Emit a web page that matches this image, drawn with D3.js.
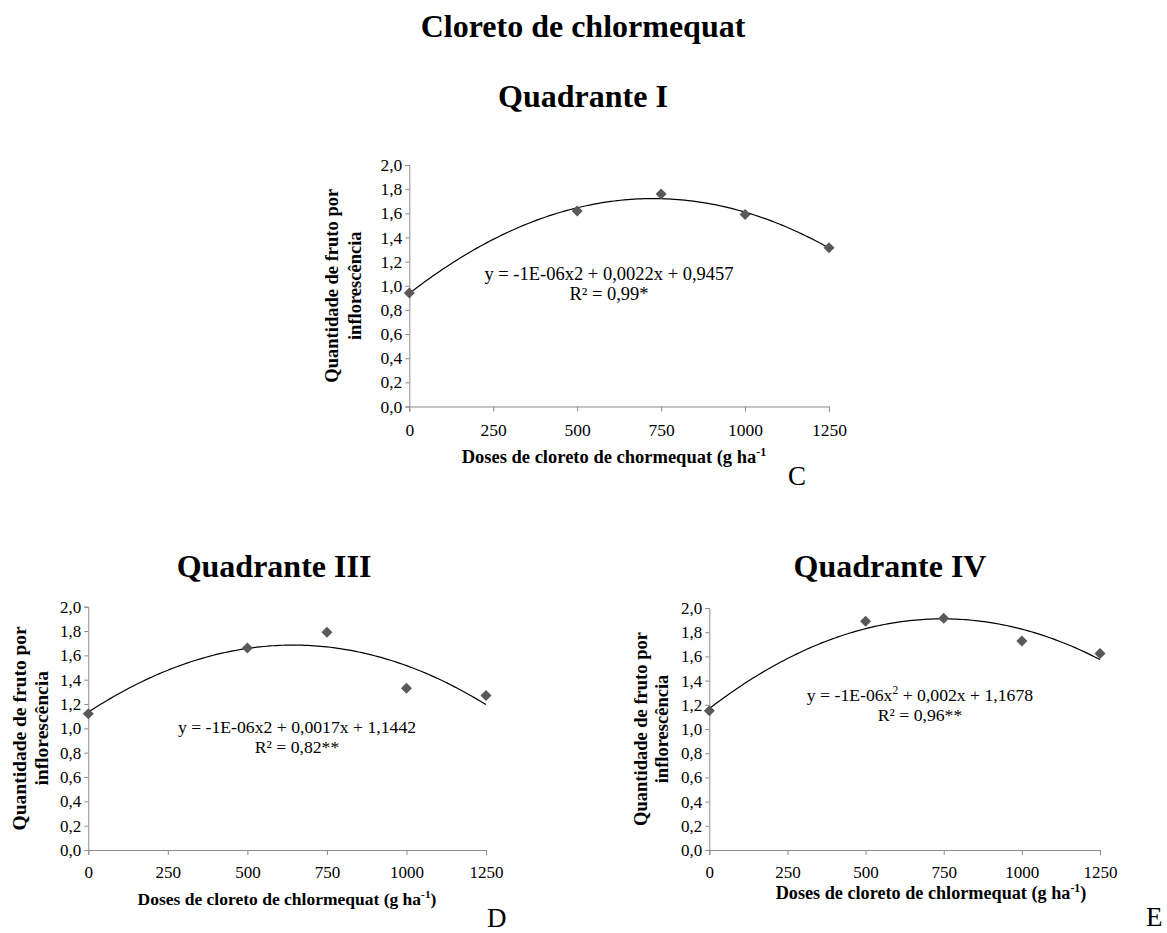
<!DOCTYPE html>
<html>
<head>
<meta charset="utf-8">
<script src="https://cdn.jsdelivr.net/npm/d3@7"></script>
<style>
  body { margin: 0; background: #fff; }
  svg { display: block; font-family: "Liberation Serif", "Times New Roman", serif; }
  svg text { font-family: "Liberation Serif", "Times New Roman", serif; }
</style>
</head>
<body>
<svg id="chart" width="1167" height="933"></svg>
<script>
// doses of chlormequat (g/ha) and fruit count per inflorescence
const doses = [0, 500, 750, 1000, 1250];
const quadI = [0.94, 1.62, 1.76, 1.59, 1.315];
const quadIII = [1.12, 1.66, 1.79, 1.33, 1.27];
const quadIV = [1.15, 1.89, 1.915, 1.727, 1.625];

const xTicks = [0, 250, 500, 750, 1000, 1250];
const yTicks = [0, 0.2, 0.4, 0.6, 0.8, 1.0, 1.2, 1.4, 1.6, 1.8, 2.0];

const mainTitle = "Cloreto de chlormequat";
const panelTitles = ["Quadrante I", "Quadrante III", "Quadrante IV"];
const panelLetters = ["C", "D", "E"];
const yTitle = ["Quantidade de fruto por", "inflorescência"];

// least squares fit y = a x^2 + b x + c
function quadFit(xs, ys) {
  let s = [0, 0, 0, 0, 0], t = [0, 0, 0];
  xs.forEach((x, i) => {
    for (let k = 0; k <= 4; k++) s[k] += Math.pow(x, k);
    for (let k = 0; k <= 2; k++) t[k] += Math.pow(x, k) * ys[i];
  });
  const M = [[s[4], s[3], s[2]], [s[3], s[2], s[1]], [s[2], s[1], s[0]]];
  const det = m => m[0][0] * (m[1][1] * m[2][2] - m[1][2] * m[2][1])
                 - m[0][1] * (m[1][0] * m[2][2] - m[1][2] * m[2][0])
                 + m[0][2] * (m[1][0] * m[2][1] - m[1][1] * m[2][0]);
  const rhs = [t[2], t[1], t[0]];
  const D = det(M);
  const sol = [0, 1, 2].map(j => {
    const m = M.map((row, i) => row.map((v, k) => k === j ? rhs[i] : v));
    return det(m) / D;
  });
  return x => sol[0] * x * x + sol[1] * x + sol[2];
}

const svg = d3.select("#chart");
const fmt = v => d3.format(".1f")(v).replace(".", ",");

svg.append("text")
  .attr("x", 583).attr("y", 37)
  .attr("text-anchor", "middle")
  .attr("font-weight", "bold")
  .attr("font-size", 32)
  .text(mainTitle);

const panels = [
  { vals: quadI, x0: 409.3, x1: 829, y0: 406.5, y1: 165,
    title: panelTitles[0], tx: 583, ty: 107,
    letter: panelLetters[0], lx: 788, ly: 485,
    eq: "y = -1E-06x2 + 0,0022x + 0,9457", r2: "R² = 0,99*", ex: 609, ey: 280, eqSize: 18.5,
    tickSize: 17.5, tickPad: 12, ytOff: 76, ytSize: 18.5, ytGap: 23,
    xlab: ["Doses de cloreto de chormequat (g ha", "-1", ""], xly: 463, xlx: 614, xlSize: 18.5 },
  { vals: quadIII, x0: 88.3, x1: 486, y0: 850, y1: 606.7,
    title: panelTitles[1], tx: 274, ty: 577,
    letter: panelLetters[1], lx: 487, ly: 927,
    eq: "y = -1E-06x2 + 0,0017x + 1,1442", r2: "R² = 0,82**", ex: 297, ey: 733, eqSize: 17.7,
    tickSize: 17, tickPad: 11, ytOff: 67.5, ytSize: 19.5, ytGap: 22.5,
    xlab: ["Doses de cloreto de chlormequat (g ha", "-1", ")"], xly: 905, xlx: 287, xlSize: 17.5 },
  { vals: quadIV, x0: 709.3, x1: 1100, y0: 850, y1: 608,
    title: panelTitles[2], tx: 890, ty: 577,
    letter: panelLetters[2], lx: 1146, ly: 926,
    eq: null, r2: "R² = 0,96**", ex: 920, ey: 701, eqSize: 17.7,
    tickSize: 17, tickPad: 11, ytOff: 67.3, ytSize: 18.5, ytGap: 21,
    xlab: ["Doses de cloreto de chlormequat (g ha", "-1", ")"], xly: 899, xlx: 931, xlSize: 18.2 }
];

panels.forEach(p => {
  const x = d3.scaleLinear().domain([0, 1250]).range([p.x0, p.x1]);
  const y = d3.scaleLinear().domain([0, 2]).range([p.y0, p.y1]);
  const g = svg.append("g");

  g.append("text")
    .attr("x", p.tx).attr("y", p.ty)
    .attr("text-anchor", "middle")
    .attr("font-weight", "bold")
    .attr("font-size", 32)
    .text(p.title);

  const yAxis = g.append("g")
    .attr("transform", `translate(${p.x0},0)`)
    .call(d3.axisLeft(y).tickValues(yTicks).tickFormat(fmt).tickSize(4).tickPadding(3));
  const xAxis = g.append("g")
    .attr("transform", `translate(0,${p.y0})`)
    .call(d3.axisBottom(x).tickValues(xTicks).tickFormat(d3.format("d")).tickSize(5).tickPadding(p.tickPad));
  [xAxis, yAxis].forEach(a => {
    a.attr("font-family", null).attr("font-size", null);
    a.selectAll("path, line").attr("stroke", "#8c8c8c");
    a.selectAll("text").attr("font-size", p.tickSize).attr("fill", "#000");
  });

  // y title (two lines, rotated)
  const cy = (p.y0 + p.y1) / 2;
  const yt = g.append("text")
    .attr("transform", `translate(${p.x0 - p.ytOff + 5},${cy}) rotate(-90)`)
    .attr("text-anchor", "middle")
    .attr("font-weight", "bold")
    .attr("font-size", p.ytSize);
  yt.append("tspan").attr("x", 0).attr("dy", 0).text(yTitle[0]);
  yt.append("tspan").attr("x", 0).attr("dy", p.ytGap).text(yTitle[1]);

  // x title
  const xt = g.append("text")
    .attr("x", p.xlx).attr("y", p.xly)
    .attr("text-anchor", "middle")
    .attr("font-weight", "bold")
    .attr("font-size", p.xlSize);
  xt.append("tspan").text(p.xlab[0]);
  xt.append("tspan").attr("dy", -7).attr("font-size", p.xlSize * 0.65).text(p.xlab[1]);
  xt.append("tspan").attr("dy", 7).text(p.xlab[2]);

  // trendline
  const f = quadFit(doses, p.vals);
  const grid = d3.range(0, 1250.1, 10);
  g.append("path")
    .datum(grid)
    .attr("fill", "none")
    .attr("stroke", "#000")
    .attr("stroke-width", 1.2)
    .attr("d", d3.line().x(d => x(d)).y(d => y(f(d))));

  // points
  g.selectAll("path.pt")
    .data(doses.map((d, i) => [d, p.vals[i]]))
    .join("path")
    .attr("class", "pt")
    .attr("transform", d => `translate(${x(d[0])},${y(d[1])})`)
    .attr("d", "M0,-5.5L5.5,0L0,5.5L-5.5,0Z")
    .attr("fill", "#595959");

  // equation
  const eq = g.append("text")
    .attr("x", p.ex).attr("y", p.ey)
    .attr("text-anchor", "middle")
    .attr("font-size", p.eqSize);
  if (p.eq) {
    eq.text(p.eq);
  } else {
    eq.append("tspan").text("y = -1E-06x");
    eq.append("tspan").attr("dy", -7).attr("font-size", p.eqSize * 0.65).text("2");
    eq.append("tspan").attr("dy", 7).text(" + 0,002x + 1,1678");
  }
  g.append("text")
    .attr("x", p.ex).attr("y", p.ey + 20)
    .attr("text-anchor", "middle")
    .attr("font-size", p.eqSize)
    .text(p.r2);

  g.append("text")
    .attr("x", p.lx).attr("y", p.ly)
    .attr("font-size", 27)
    .text(p.letter);
});
</script>
</body>
</html>
